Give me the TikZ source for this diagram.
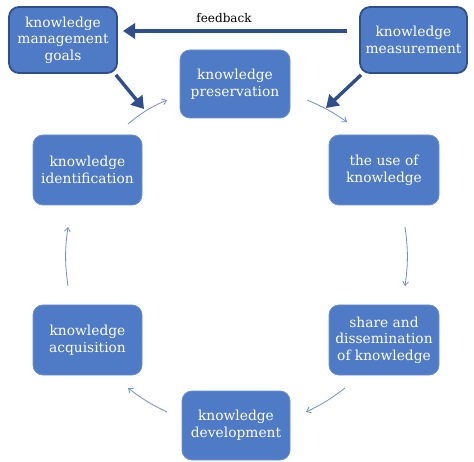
\documentclass[tikz,border=0pt]{standalone}
\usepackage{fontspec}
\setmainfont{DejaVu Serif}
\usetikzlibrary{arrows.meta,positioning}
\definecolor{boxblue}{HTML}{4F7BC6}
\definecolor{darkblue}{HTML}{2E4F8C}
\definecolor{thinblue}{HTML}{6F8ED0}
\tikzset{
  kbox/.style={draw=boxblue!85!white, line width=0.8pt, fill=boxblue, rounded corners=10pt,
    text=white, align=center, inner sep=0pt,
    font=\fontsize{13.8pt}{16.7pt}\selectfont},
  kgoal/.style={kbox, draw=darkblue, line width=1.8pt},
  thick arrow/.style={draw=darkblue, line width=3.4pt, -{Triangle[width=15pt,length=12pt]}},
  thin arrow/.style={draw=thinblue, line width=0.8pt, -{Straight Barb[length=4pt,width=6pt]}},
  lbl/.style={font=\fontsize{12pt}{14pt}\selectfont, text=black}
}
\begin{document}
\begin{tikzpicture}[x=1pt,y=-1pt]
\useasboundingbox (0,0) rectangle (474,462);
\node[kgoal, minimum width=108pt, minimum height=66pt] (goals) at (63,40) {knowledge\\management\\goals};
\node[kgoal, minimum width=107pt, minimum height=66pt] (meas) at (413.5,40) {knowledge\\measurement};
\node[kbox, minimum width=110pt, minimum height=68pt] (pres) at (235,84) {knowledge\\preservation};
\node[kbox, minimum width=110pt, minimum height=70pt] (use) at (384,170) {the use of\\knowledge};
\node[kbox, minimum width=109pt, minimum height=70pt] (ident) at (87.5,170) {knowledge\\identification};
\node[kbox, minimum width=109pt, minimum height=70pt] (acq) at (87.5,340) {knowledge\\acquisition};
\node[kbox, minimum width=110pt, minimum height=70pt] (share) at (384,340) {share and\\dissemination\\of knowledge};
\node[kbox, minimum width=108pt, minimum height=69pt] (dev) at (236,425.5) {knowledge\\development};
% feedback
\coordinate (fbs) at (347,31);
\coordinate (fbe) at (123,31);
\draw[thick arrow] (fbs) -- (fbe);
\node[lbl] (fbl) at (224,18) {feedback};
\coordinate (ga) at (144,109);
\coordinate (ma) at (326,108);
\draw[thick arrow] (goals.south east) ++(-2pt,-1pt) -- (ga);
\draw[thick arrow] (meas.south west) ++(2pt,-1pt) -- (ma);
% cycle arrows
\coordinate (c1s) at (128,124); \coordinate (c1e) at (167,100);
\coordinate (c2s) at (307,100); \coordinate (c2e) at (347,122);
\coordinate (c3s) at (405,227); \coordinate (c3e) at (405,286);
\coordinate (c4s) at (345,388); \coordinate (c4e) at (306,412);
\coordinate (c5s) at (167,412); \coordinate (c5e) at (128,388);
\coordinate (c6s) at (68,286); \coordinate (c6e) at (68,227);
\draw[thin arrow] (c1s) to[bend left=8] (c1e);
\draw[thin arrow] (c2s) to[bend left=6] (c2e);
\draw[thin arrow] (c3s) to[bend left=8] (c3e);
\draw[thin arrow] (c4s) to[bend left=6] (c4e);
\draw[thin arrow] (c5s) to[bend left=6] (c5e);
\draw[thin arrow] (c6s) to[bend left=8] (c6e);
\end{tikzpicture}
\end{document}
